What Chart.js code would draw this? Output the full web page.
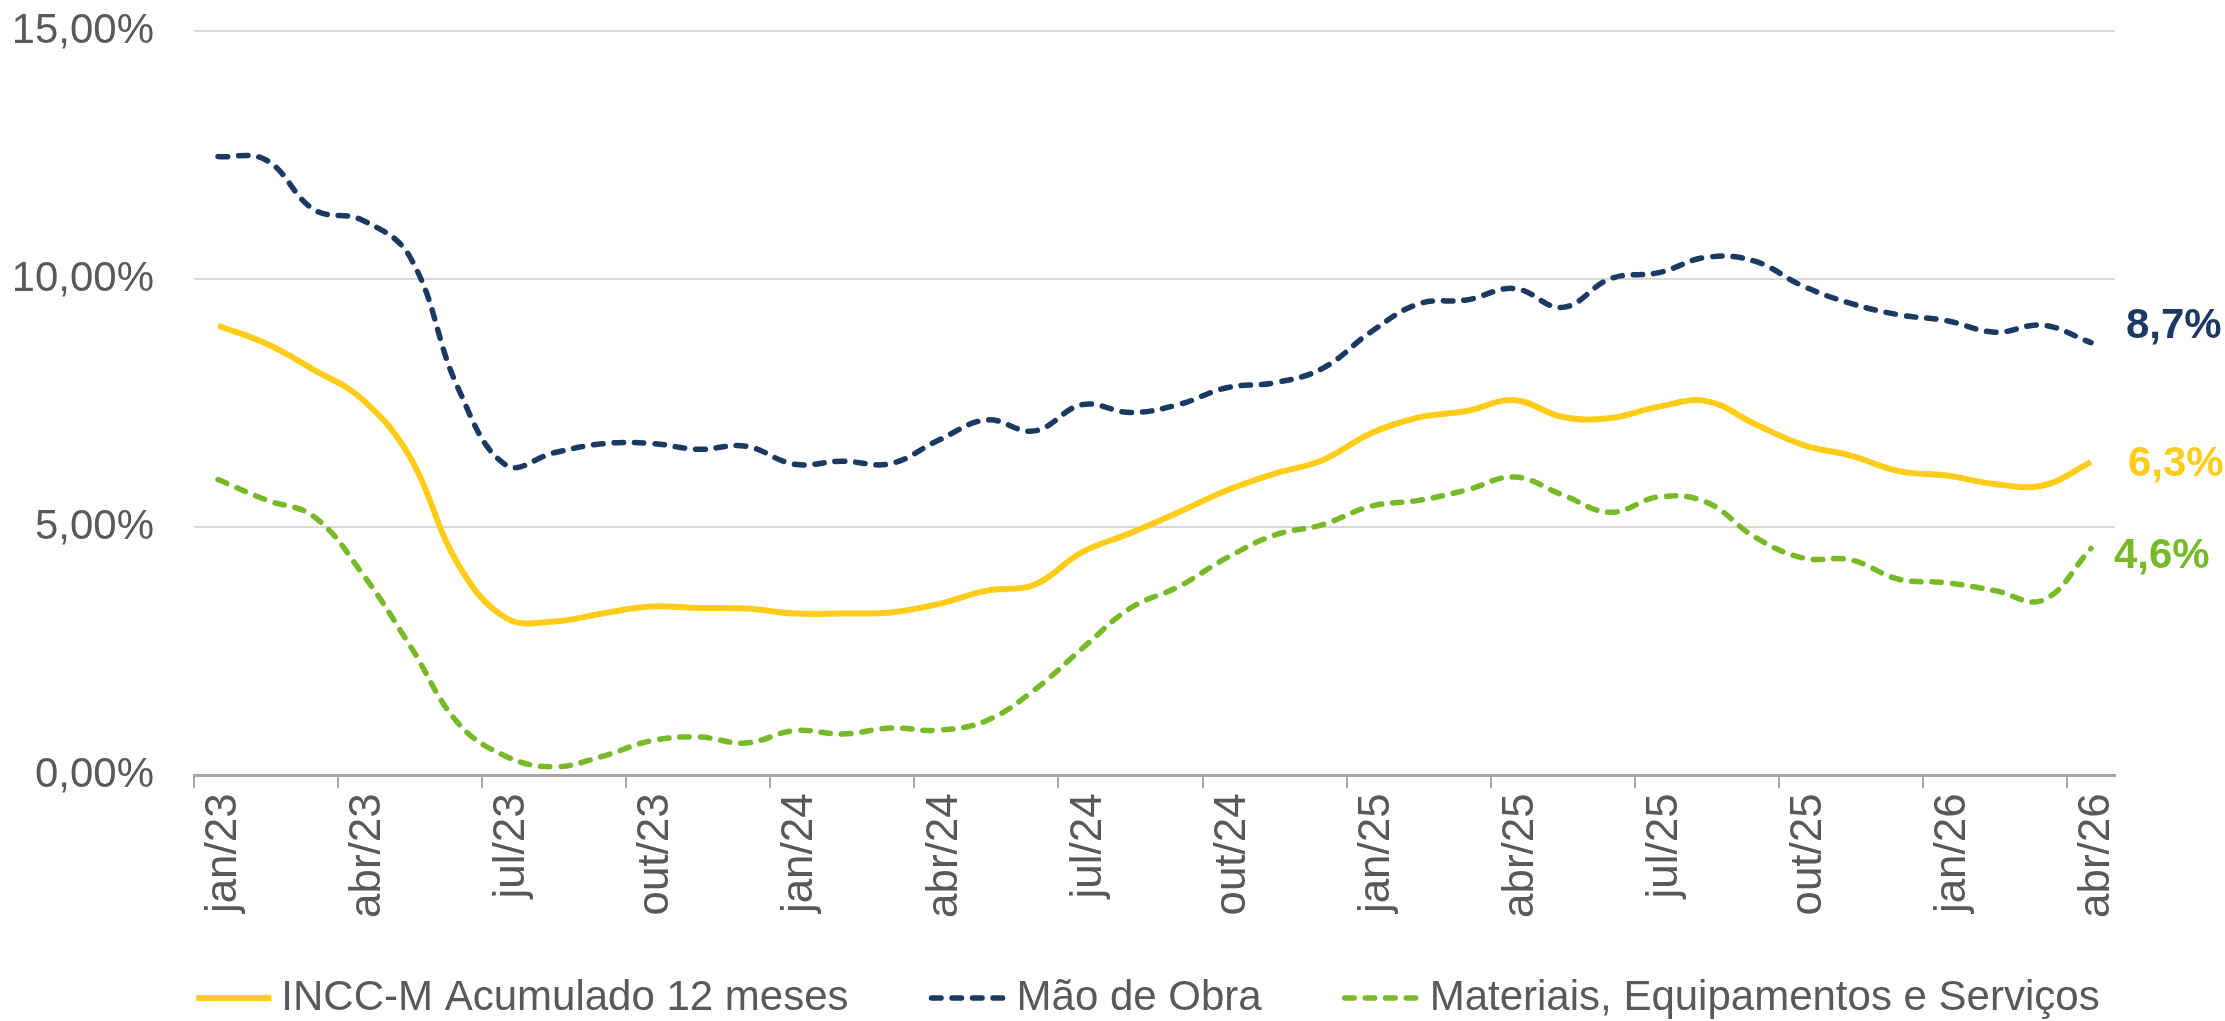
<!DOCTYPE html>
<html>
<head>
<meta charset="utf-8">
<script src="https://cdn.jsdelivr.net/npm/chart.js@4.4.0/dist/chart.umd.min.js"></script>
<style>
  html, body { margin: 0; padding: 0; background: #ffffff; }
  #wrap { width: 2225px; height: 1021px; }
</style>
</head>
<body>
<div id="wrap"><canvas id="incc"></canvas></div>
<script>
// categorias (meses)
var meses = [
  "jan/23", "fev/23", "mar/23", "abr/23", "mai/23", "jun/23", "jul/23", "ago/23", "set/23", "out/23", "nov/23", "dez/23",
  "jan/24", "fev/24", "mar/24", "abr/24", "mai/24", "jun/24", "jul/24", "ago/24", "set/24", "out/24", "nov/24", "dez/24",
  "jan/25", "fev/25", "mar/25", "abr/25", "mai/25", "jun/25", "jul/25", "ago/25", "set/25", "out/25", "nov/25", "dez/25",
  "jan/26", "fev/26", "mar/26", "abr/26"
];

// INCC-M acumulado 12 meses (%)
var inccM = [
  9.06, 8.70, 8.17, 7.58, 6.41, 4.25, 3.17, 3.10, 3.26, 3.40, 3.37, 3.36,
  3.26, 3.26, 3.28, 3.45, 3.72, 3.84, 4.50, 4.88, 5.30, 5.74, 6.08, 6.35,
  6.89, 7.21, 7.34, 7.56, 7.22, 7.20, 7.43, 7.54, 7.08, 6.66, 6.44, 6.13,
  6.04, 5.87, 5.84, 6.31
];

// Mão de Obra (%)
var maoDeObra = [
  12.47, 12.40, 11.40, 11.19, 10.44, 7.80, 6.25, 6.50, 6.68, 6.69, 6.57, 6.63,
  6.27, 6.33, 6.28, 6.75, 7.16, 6.94, 7.47, 7.31, 7.47, 7.81, 7.91, 8.20,
  8.93, 9.50, 9.58, 9.81, 9.43, 10.01, 10.13, 10.44, 10.36, 9.86, 9.51, 9.28,
  9.16, 8.93, 9.07, 8.72
];

// Materiais, Equipamentos e Serviços (%)
var materiais = [
  5.96, 5.55, 5.21, 4.07, 2.61, 1.05, 0.38, 0.17, 0.38, 0.69, 0.77, 0.65,
  0.90, 0.83, 0.95, 0.91, 1.10, 1.72, 2.56, 3.37, 3.80, 4.38, 4.84, 5.05,
  5.42, 5.54, 5.75, 6.01, 5.65, 5.30, 5.61, 5.50, 4.80, 4.38, 4.34, 3.95,
  3.88, 3.72, 3.53, 4.57
];

var FONTE = '"Liberation Sans", Arial, sans-serif';
Chart.defaults.font.family = FONTE;

// rótulos do último ponto de cada série
var rotulosFinais = {
  id: "rotulosFinais",
  afterDatasetsDraw: function (chart) {
    var ctx = chart.ctx;
    var desloc = [[37, 2], [35, -16], [23, 8]];
    chart.data.datasets.forEach(function (ds, i) {
      var meta = chart.getDatasetMeta(i);
      var pt = meta.data[meta.data.length - 1];
      var v = ds.data[ds.data.length - 1];
      ctx.save();
      ctx.font = "bold 42px " + FONTE;
      ctx.fillStyle = ds.borderColor;
      ctx.textAlign = "left";
      ctx.textBaseline = "middle";
      ctx.fillText(v.toFixed(1).replace(".", ",") + "%", pt.x + desloc[i][0], pt.y + desloc[i][1]);
      ctx.restore();
    });
  }
};

// legenda desenhada no rodapé (espaçamento igual ao do Excel)
var legendaRodape = {
  id: "legendaRodape",
  afterDraw: function (chart) {
    var ctx = chart.ctx;
    var amostra = 75, folga = 10, entre = 83, yc = 998;
    ctx.save();
    ctx.font = "42px " + FONTE;
    var larg = 0;
    chart.data.datasets.forEach(function (ds, i) {
      larg += amostra + folga + ctx.measureText(ds.label).width + (i > 0 ? entre : 0);
    });
    var x = 1148 - larg / 2;
    chart.data.datasets.forEach(function (ds) {
      ctx.beginPath();
      ctx.strokeStyle = ds.borderColor;
      ctx.lineWidth = ds.borderWidth;
      ctx.lineCap = ds.borderCapStyle || "butt";
      ctx.setLineDash(ds.borderDash || []);
      ctx.moveTo(x, yc);
      ctx.lineTo(x + amostra, yc);
      ctx.stroke();
      ctx.setLineDash([]);
      x += amostra + folga;
      ctx.fillStyle = "#595959";
      ctx.textAlign = "left";
      ctx.textBaseline = "middle";
      ctx.fillText(ds.label, x, yc);
      x += ctx.measureText(ds.label).width + entre;
    });
    ctx.restore();
  }
};

var ctx = document.getElementById("incc").getContext("2d");
var chart = new Chart(ctx, {
  type: "line",
  data: {
    labels: meses,
    datasets: [
      {
        label: "INCC-M Acumulado 12 meses",
        data: inccM,
        borderColor: "#FFCC1A",
        backgroundColor: "#FFCC1A",
        borderWidth: 6,
        tension: 0.4,
        pointRadius: 0,
        fill: false
      },
      {
        label: "Mão de Obra",
        data: maoDeObra,
        borderColor: "#1B3A63",
        backgroundColor: "#1B3A63",
        borderWidth: 5.5,
        borderDash: [9.5, 11],
        borderCapStyle: "round",
        tension: 0.4,
        pointRadius: 0,
        fill: false
      },
      {
        label: "Materiais, Equipamentos e Serviços",
        data: materiais,
        borderColor: "#78B927",
        backgroundColor: "#78B927",
        borderWidth: 5.5,
        borderDash: [9.5, 11],
        borderCapStyle: "round",
        tension: 0.4,
        pointRadius: 0,
        fill: false
      }
    ]
  },
  options: {
    responsive: true,
    maintainAspectRatio: false,
    animation: false,
    layout: { padding: { left: 15, right: 110, top: 0, bottom: 98 } },
    plugins: {
      legend: { display: false },
      tooltip: { enabled: false }
    },
    scales: {
      x: {
        offset: true,
        grid: {
          offset: true,
          drawOnChartArea: false,
          tickLength: 13,
          lineWidth: 2,
          color: function (c) {
            return c.index % 3 === 0 ? "#A6A6A6" : "rgba(0,0,0,0)";
          }
        },
        border: { display: true, color: "#A6A6A6", width: 3 },
        ticks: {
          autoSkip: false,
          maxRotation: 90,
          minRotation: 90,
          padding: 5,
          labelOffset: 6,
          color: "#595959",
          font: { size: 44 },
          callback: function (v, i) {
            return i % 3 === 0 ? this.getLabelForValue(v) : "";
          }
        }
      },
      y: {
        min: 0,
        max: 15,
        afterFit: function (scale) {
          scale.width = 179;
          scale.paddingTop = 31;
        },
        grid: { color: "#D9D9D9", lineWidth: 2, drawTicks: false },
        border: { display: false },
        ticks: {
          stepSize: 5,
          padding: 40,
          color: "#595959",
          font: { size: 42 },
          callback: function (v) {
            return v.toFixed(2).replace(".", ",") + "%";
          }
        }
      }
    }
  },
  plugins: [rotulosFinais, legendaRodape]
});
</script>
</body>
</html>
